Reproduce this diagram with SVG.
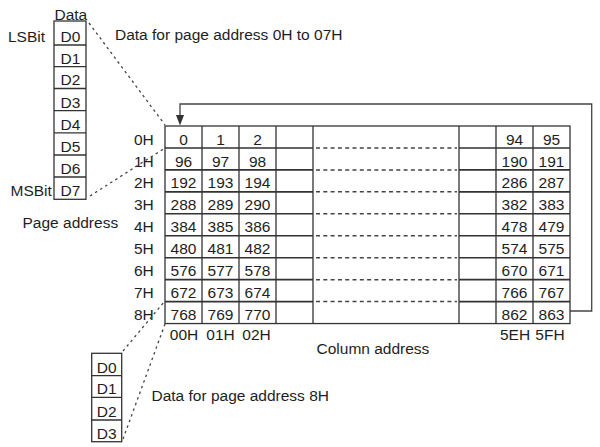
<svg xmlns="http://www.w3.org/2000/svg" width="600" height="447" viewBox="0 0 600 447">
<defs>
<style>
text{font-family:"Liberation Sans",Arial,sans-serif;font-size:15.5px;fill:#1e1e1e}
.c{text-anchor:middle}
.ln{stroke:#333;stroke-width:1.3;fill:none}
.hl{stroke:#333;stroke-width:1.6;fill:none}
.dh{stroke:#444;stroke-width:1.5;stroke-dasharray:4,3.3;fill:none}
.dot{stroke:#444;stroke-width:1.3;stroke-dasharray:2.5,3.5;fill:none}
.arr{stroke:#444;stroke-width:1.3;fill:none}
</style>
</defs>
<rect width="600" height="447" fill="#fff"/>

<g id="data-byte">
<text x="54.5" y="19.5">Data</text>
<text x="8" y="42">LSBit</text>
<text x="10.5" y="195.5">MSBit</text>
<rect class="ln" x="54" y="21" width="32" height="178.3"/>
<path class="ln" d="M54 45H86M54 66.7H86M54 88.5H86M54 110.7H86M54 132.8H86M54 155H86M54 177H86"/>
<text class="c" x="70.5" y="42">D0</text>
<text class="c" x="70.5" y="63.5">D1</text>
<text class="c" x="70.5" y="85.3">D2</text>
<text class="c" x="70.5" y="107.5">D3</text>
<text class="c" x="70.5" y="129.6">D4</text>
<text class="c" x="70.5" y="151.8">D5</text>
<text class="c" x="70.5" y="173.8">D6</text>
<text class="c" x="70.5" y="196">D7</text>
</g>

<g id="labels">
<text x="115" y="40">Data for page address 0H to 07H</text>
<text x="22.5" y="228.3">Page address</text>
<text x="316.5" y="354.3">Column address</text>
<text x="151.5" y="400.5">Data for page address 8H</text>
</g>

<g id="data-byte-8h">
<rect class="ln" x="91.7" y="353.3" width="30" height="88.4"/>
<path class="ln" d="M91.7 375.7H121.7M91.7 397.3H121.7M91.7 420H121.7"/>
<text class="c" x="106.7" y="372.8">D0</text>
<text class="c" x="106.7" y="394.3">D1</text>
<text class="c" x="106.7" y="416.8">D2</text>
<text class="c" x="106.7" y="438.5">D3</text>
</g>

<g id="ram-table">
<rect class="ln" x="165" y="126" width="405" height="197.55"/>
<path class="ln" d="M202 126V323.55M239 126V323.55M276 126V323.55M313 126V323.55M459 126V323.55M496 126V323.55M533 126V323.55"/>
<path class="hl" d="M165 147.95H313M165 169.9H313M165 191.85H313M165 213.8H313M165 235.75H313M165 257.7H313M165 279.65H313M165 301.6H313"/>
<path class="hl" d="M459 147.95H570M459 169.9H570M459 191.85H570M459 213.8H570M459 235.75H570M459 257.7H570M459 279.65H570M459 301.6H570"/>
<path class="dh" d="M316 147.95H457M316 169.9H457M316 191.85H457M316 213.8H457M316 235.75H457M316 257.7H457M316 279.65H457M316 301.6H457"/>
<g id="row-labels">
<text x="134" y="144.5">0H</text>
<text x="134" y="166.5">1H</text>
<text x="134" y="188.4">2H</text>
<text x="134" y="210.4">3H</text>
<text x="134" y="232.3">4H</text>
<text x="134" y="254.3">5H</text>
<text x="134" y="276.2">6H</text>
<text x="134" y="298.2">7H</text>
<text x="134" y="320.1">8H</text>
</g>
<g id="cells">
<text class="c" x="183.5" y="144.5">0</text><text class="c" x="220.5" y="144.5">1</text><text class="c" x="257.5" y="144.5">2</text><text class="c" x="514.5" y="144.5">94</text><text class="c" x="551.5" y="144.5">95</text>
<text class="c" x="183.5" y="166.5">96</text><text class="c" x="220.5" y="166.5">97</text><text class="c" x="257.5" y="166.5">98</text><text class="c" x="514.5" y="166.5">190</text><text class="c" x="551.5" y="166.5">191</text>
<text class="c" x="183.5" y="188.4">192</text><text class="c" x="220.5" y="188.4">193</text><text class="c" x="257.5" y="188.4">194</text><text class="c" x="514.5" y="188.4">286</text><text class="c" x="551.5" y="188.4">287</text>
<text class="c" x="183.5" y="210.4">288</text><text class="c" x="220.5" y="210.4">289</text><text class="c" x="257.5" y="210.4">290</text><text class="c" x="514.5" y="210.4">382</text><text class="c" x="551.5" y="210.4">383</text>
<text class="c" x="183.5" y="232.3">384</text><text class="c" x="220.5" y="232.3">385</text><text class="c" x="257.5" y="232.3">386</text><text class="c" x="514.5" y="232.3">478</text><text class="c" x="551.5" y="232.3">479</text>
<text class="c" x="183.5" y="254.3">480</text><text class="c" x="220.5" y="254.3">481</text><text class="c" x="257.5" y="254.3">482</text><text class="c" x="514.5" y="254.3">574</text><text class="c" x="551.5" y="254.3">575</text>
<text class="c" x="183.5" y="276.2">576</text><text class="c" x="220.5" y="276.2">577</text><text class="c" x="257.5" y="276.2">578</text><text class="c" x="514.5" y="276.2">670</text><text class="c" x="551.5" y="276.2">671</text>
<text class="c" x="183.5" y="298.2">672</text><text class="c" x="220.5" y="298.2">673</text><text class="c" x="257.5" y="298.2">674</text><text class="c" x="514.5" y="298.2">766</text><text class="c" x="551.5" y="298.2">767</text>
<text class="c" x="183.5" y="320.1">768</text><text class="c" x="220.5" y="320.1">769</text><text class="c" x="257.5" y="320.1">770</text><text class="c" x="514.5" y="320.1">862</text><text class="c" x="551.5" y="320.1">863</text>
</g>
<g id="column-labels">
<text class="c" x="184" y="339.5">00H</text>
<text class="c" x="220.5" y="339.5">01H</text>
<text class="c" x="256.5" y="339.5">02H</text>
<text class="c" x="515" y="339.5">5EH</text>
<text class="c" x="550" y="339.5">5FH</text>
</g>
</g>

<g id="connectors">
<path class="dot" d="M89 23L165 125"/>
<path class="dot" d="M90 196L165 148"/>
<path class="dot" d="M123 351L164 302"/>
<path class="dot" d="M123 439L165 324"/>
<path class="arr" d="M570 311H591.7V104H180V116"/>
<polygon points="176,115 184,115 180,125.5" fill="#333"/>
</g>
</svg>
